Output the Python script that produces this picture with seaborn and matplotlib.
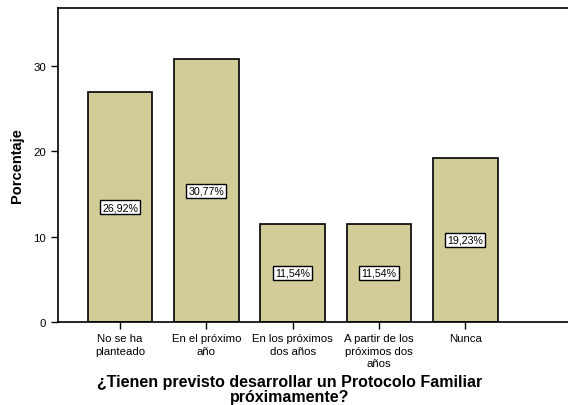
import matplotlib
matplotlib.use("Agg")
import matplotlib.pyplot as plt
from matplotlib import font_manager
import seaborn as sns
import pandas as pd

# datos
categorias = ["No se ha\nplanteado", "En el próximo\naño", "En los próximos\ndos años",
              "A partir de los\npróximos dos\naños", "Nunca"]
porcentajes = [26.92, 30.77, 11.54, 11.54, 19.23]
etiquetas = ["26,92%", "30,77%", "11,54%", "11,54%", "19,23%"]

df = pd.DataFrame({"cat": categorias, "pct": porcentajes})

sns.set_style("white")
# fuente tipo Arial (evitar la variante Narrow)
fuente = None
for f in font_manager.fontManager.ttflist:
    if f.name == "Liberation Sans" and "Narrow" not in f.fname:
        fuente = f.name
        break
plt.rcParams["font.family"] = [fuente or "DejaVu Sans", "DejaVu Sans"]
plt.rcParams["text.color"] = "black"
plt.rcParams["axes.labelcolor"] = "black"
plt.rcParams["xtick.color"] = "black"
plt.rcParams["ytick.color"] = "black"

fig = plt.figure(figsize=(5.68, 4.06), dpi=100)
ax = fig.add_axes([0.102, 0.2044, 0.898, 0.7735])

sns.barplot(data=df, x="cat", y="pct", color="#D2CD98", edgecolor="black",
            linewidth=1.2, width=0.75, saturation=1, ax=ax)

for i, (v, t) in enumerate(zip(porcentajes, etiquetas)):
    ax.text(i, v / 2, t, ha="center", va="center", fontsize=7.7,
            bbox=dict(boxstyle="square,pad=0.2", fc="white", ec="black", lw=1))

ax.set_xlim(-0.72, 5.19)
ax.set_ylim(0, 36.8)
ax.set_yticks([0, 10, 20, 30])
ax.tick_params(axis="both", direction="out", length=5, width=1, color="black",
               labelsize=8.2, bottom=True, left=True)
ax.tick_params(axis="x", pad=3)
for lbl in ax.get_xticklabels():
    lbl.set_linespacing(1.3)
ax.spines["right"].set_visible(False)
for s in ["left", "top", "bottom"]:
    ax.spines[s].set_color("black")
    ax.spines[s].set_linewidth(1.2)

ax.set_ylabel("Porcentaje", fontsize=10.5, fontweight="bold")
ax.yaxis.set_label_coords(-0.066, 0.5)
ax.set_xlabel("¿Tienen previsto desarrollar un Protocolo Familiar\npróximamente?",
              fontsize=11.5, fontweight="bold", linespacing=1.0)
ax.xaxis.set_label_coords(0.455, -0.166)
ax.xaxis.label.set_va("top")

plt.savefig("out.png", dpi=100)
plt.close()
